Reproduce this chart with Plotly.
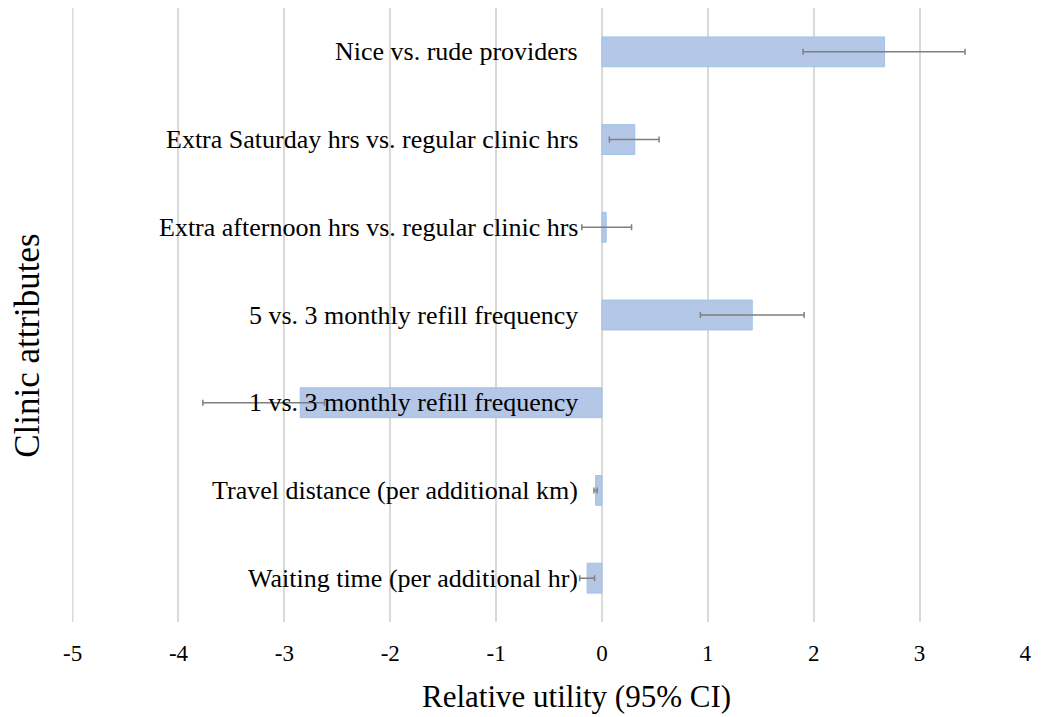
import plotly.graph_objects as go

categories = [
    "Nice vs. rude providers",
    "Extra Saturday hrs vs. regular clinic hrs",
    "Extra afternoon hrs vs. regular clinic hrs",
    "5 vs. 3 monthly refill frequency",
    "1 vs. 3 monthly refill frequency",
    "Travel distance (per additional km)",
    "Waiting time (per additional hr)",
]
utility = [2.67, 0.31, 0.04, 1.42, -2.85, -0.06, -0.14]
ci_low = [1.90, 0.07, -0.19, 0.93, -3.77, -0.075, -0.21]
ci_high = [3.43, 0.54, 0.28, 1.91, -2.62, -0.045, -0.07]
x_ticks = [-5, -4, -3, -2, -1, 0, 1, 2, 3, 4]

err_plus = [h - u for h, u in zip(ci_high, utility)]
err_minus = [u - l for u, l in zip(utility, ci_low)]

serif = "Liberation Serif, Times New Roman, serif"

fig = go.Figure()
fig.add_trace(go.Bar(
    y=categories,
    x=utility,
    orientation="h",
    marker=dict(color="#B4C7E7", line=dict(color="#9DC3E6", width=1)),
    error_x=dict(type="data", symmetric=False, array=err_plus, arrayminus=err_minus,
                 color="#7F7F7F", thickness=1.5, width=3),
))

for c in categories:
    fig.add_annotation(x=0, y=c, xref="x", yref="y", text=c, showarrow=False,
                       xanchor="right", yanchor="middle", xshift=-22,
                       font=dict(family=serif, size=26, color="#000000"))

fig.add_annotation(x=0.529, y=-0.122, xref="paper", yref="paper",
                   text="Relative utility (95% CI)", showarrow=False,
                   xanchor="center", yanchor="middle",
                   font=dict(family=serif, size=31, color="#000000"))
fig.add_annotation(x=-0.046, y=0.45, xref="paper", yref="paper",
                   text="Clinic attributes", showarrow=False, textangle=-90,
                   xanchor="center", yanchor="middle",
                   font=dict(family=serif, size=35, color="#000000"))

# gridline at the left edge of the range (Plotly omits edge gridlines)
fig.add_shape(type="line", xref="x", yref="paper", x0=x_ticks[0], x1=x_ticks[0],
              y0=0, y1=1, line=dict(color="#D9D9D9", width=1.5), layer="below")

fig.update_layout(
    width=1037, height=709,
    margin=dict(l=64, r=19, t=0, b=95),
    paper_bgcolor="white", plot_bgcolor="white",
    bargap=0.66,
    showlegend=False,
    xaxis=dict(range=[-5.006, 4.006], tickvals=x_ticks, ticktext=[str(v) for v in x_ticks],
               showgrid=True, gridcolor="#D9D9D9", gridwidth=1.5,
               zeroline=False, showline=False, ticks="",
               ticklabelstandoff=15,
               tickfont=dict(family=serif, size=23, color="#000000")),
    yaxis=dict(categoryorder="array", categoryarray=categories, autorange="reversed",
               showticklabels=False, showgrid=False, zeroline=False, showline=False,
               ticks=""),
)

fig.write_html("out.html")
